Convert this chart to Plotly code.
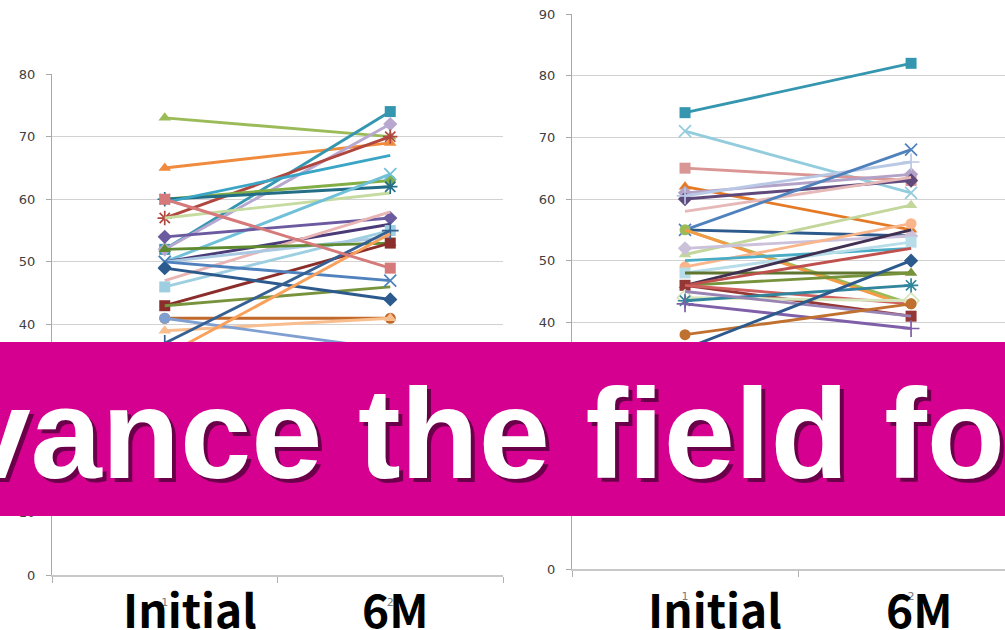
import plotly.graph_objects as go

categories = ["1", "2"]
x_labels = ["Initial", "6M"]
banner_text = "advance the field for"

# Left chart (Initial, 6M) per subject
left_initial = [73, 65, 52, 52, 57, 57, 60, 60, 59.5, 50, 54, 50, 47, 46, 50, 52, 43, 43, 50, 49, 41, 39, 41, 37, 35, 60]
left_6m      = [70, 69, 74, 72, 70, 61, 63, 62, 67, 64, 57, 56, 58, 55, 54, 53, 53, 46, 47, 44, 41, 41, 36, 55, 54.5, 49]
left_colors = ["#9BBB59", "#F08A3C", "#3596B0", "#B8A8D0", "#B0473F", "#C6DBA0", "#83AE45",
               "#236E86", "#3AA5C4", "#6FC0D8", "#6B5AA0", "#4A3A78", "#E8B4B4", "#9DCFE0", "#A9C9E2",
               "#5F8A30", "#8B2E2B", "#77933C", "#4F81BD", "#2C5A8C", "#C0692A", "#F9BE8E", "#7F9FD0",
               "#376092", "#F9A05B", "#D6797A"]
left_symbols = ["triangle-up", "triangle-up", "square", "diamond", "asterisk-open", None, "circle",
                "asterisk-open", None, "x-thin-open", "diamond", None, None, "square", None,
                "triangle-up", "square", None, "x-thin-open", "diamond", "circle", "triangle-up", "circle",
                "cross-thin-open", None, "square"]

# Right chart
right_initial = [74, 71, 65, 62, 61, 60, 58, 60.5, 55, 55, 55, 55, 51, 52, 49, 50, 48, 48, 46, 46, 46, 46, 46, 44, 43.5, 45, 43, 38, 35.7]
right_6m      = [82, 61, 63, 55, 64, 63, 63.5, 66, 68, 54, 43, 42.5, 59, 54, 56, 52, 53, 48, 48, 55, 52, 41, 43, 43.5, 46, 41, 39, 43, 50]
right_colors = ["#3596B0", "#93CDDD", "#D99694", "#E47A25", "#B3A2C7", "#5F497A", "#E6B9B8", "#B9C8E5",
                "#4F81BD", "#2C5A8C", "#9BBB59", "#F59A45", "#C3D69B", "#CCC1DA", "#FAB58A", "#4BACC6",
                "#B7DEE8", "#5F7530", "#77933C", "#403152", "#C0504D", "#953735", "#D06060", "#D7E4BD",
                "#31859C", "#9983B5", "#7F5FA8", "#C0702F", "#2C5A8C"]
right_symbols = ["square", "x-thin-open", "square", "triangle-up", "diamond", "diamond", None, "cross-thin-open",
                 "x-thin-open", None, "circle", None, "triangle-up", "diamond", "circle", None,
                 "square", None, "triangle-up", None, None, "square", None, "diamond-open",
                 "asterisk-open", None, "cross-thin-open", "circle", "diamond"]

W, H = 1005, 630
fig = go.Figure()


def add_series(initial, six, colors, symbols, xa, ya):
    for a, b, c, s in zip(initial, six, colors, symbols):
        open_sym = s is not None and s.endswith("open")
        marker = dict(symbol=s if s else "circle", size=11 if not open_sym else 12, color=c,
                      line=dict(width=1.7 if open_sym else 0, color=c))
        fig.add_trace(go.Scatter(
            x=categories, y=[a, b], mode="lines+markers" if s else "lines",
            line=dict(color=c, width=2.9), marker=marker,
            xaxis=xa, yaxis=ya, showlegend=False, hoverinfo="skip"))


add_series(left_initial, left_6m, left_colors, left_symbols, "x", "y")
add_series(right_initial, right_6m, right_colors, right_symbols, "x2", "y2")


def px_x(p):
    return p / W


def px_y(p):
    return (H - p) / H


axis_common_x = dict(type="category", showline=True, linecolor="#c8c8c8", linewidth=2,
                     ticks="outside", tickson="boundaries", ticklen=6, tickcolor="#b0b0b0",
                     showgrid=False, zeroline=False, ticklabelstandoff=16,
                     tickfont=dict(family="DejaVu Sans", size=11, color="#7a7a7a"))
axis_common_y = dict(showline=True, linecolor="#a8a8a8", linewidth=1, ticks="outside", ticklen=5,
                     tickcolor="#a8a8a8", showgrid=True, gridcolor="#d2d2d2", gridwidth=1,
                     zeroline=False, dtick=10, ticklabelstandoff=8,
                     tickfont=dict(family="DejaVu Sans", size=13, color="#404040"))

fig.update_layout(
    width=W, height=H, margin=dict(l=0, r=0, t=0, b=0, autoexpand=False),
    paper_bgcolor="white", plot_bgcolor="white", showlegend=False,
    xaxis=dict(domain=[px_x(52), px_x(503)], range=[-0.5, 1.5], anchor="y", **axis_common_x),
    yaxis=dict(domain=[px_y(575), px_y(74)], range=[0, 80], anchor="x", **axis_common_y),
    xaxis2=dict(domain=[px_x(572), 1], range=[-0.5, 1.5 - (1024 - 1005) / 225], anchor="y2", **axis_common_x),
    yaxis2=dict(domain=[px_y(569), px_y(14)], range=[0, 90], anchor="x2", **axis_common_y),
)

# Banner
fig.add_shape(type="rect", xref="paper", yref="paper", x0=0, x1=1, y0=px_y(516), y1=px_y(342),
              fillcolor="#D5008F", line=dict(width=0), layer="above")

bx, by = -192, 433
fig.add_annotation(text=banner_text, xref="paper", yref="paper", x=px_x(bx + 4), y=px_y(by + 4),
                   xanchor="left", yanchor="middle", showarrow=False,
                   font=dict(family="Liberation Sans", size=128, color="rgba(70,0,50,0.75)", weight="bold"))
fig.add_annotation(text=banner_text, xref="paper", yref="paper", x=px_x(bx), y=px_y(by),
                   xanchor="left", yanchor="middle", showarrow=False,
                   font=dict(family="Liberation Sans", size=128, color="white", weight="bold"))

label_font = dict(family="Noto Sans CJK KR", size=46, color="black", weight="bold")
for cx, t in zip([190, 395, 715, 919], x_labels * 2):
    fig.add_annotation(text=t, xref="paper", yref="paper", x=px_x(cx), y=px_y(608),
                       xanchor="center", yanchor="middle", showarrow=False, font=label_font)

fig.write_html("out.html", config={"displayModeBar": False},
               post_script="document.body.style.margin='0';document.body.style.overflow='hidden';")
